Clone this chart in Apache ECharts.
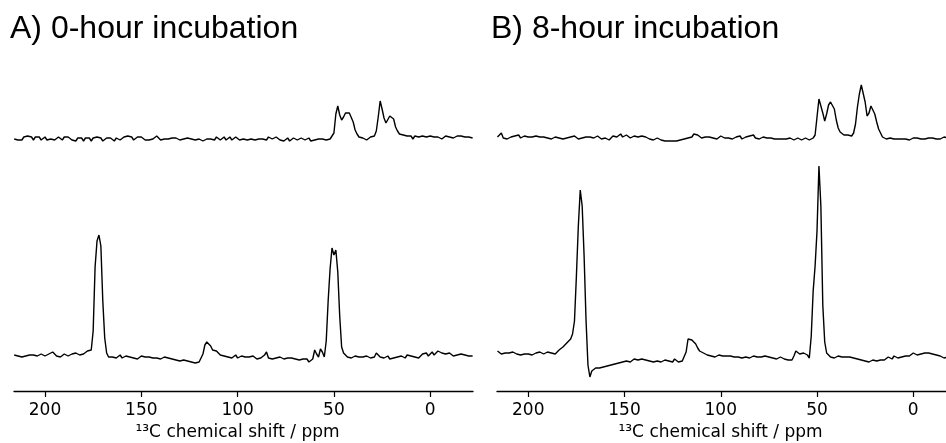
<!DOCTYPE html>
<html>
<head>
<meta charset="utf-8">
<script src="https://cdn.jsdelivr.net/npm/echarts@6/dist/echarts.min.js"></script>
<style>
html,body{margin:0;padding:0;background:#fff;}
#chart{width:946px;height:443px;}
</style>
</head>
<body>
<div id="chart"></div>
<script>
// chemical shift sampling (ppm), 216 .. -22
const ppm = [
216,215,214,213,212,211,210,209,208,207,
206,205,204,203,202,201,200,199,198,197,
196,195,194,193,192,191,190,189,188,187,
186,185,184,183,182,181,180,179,178,177,
176,175,174,173,172,171,170,169,168,167,
166,165,164,163,162,161,160,159,158,157,
156,155,154,153,152,151,150,149,148,147,
146,145,144,143,142,141,140,139,138,137,
136,135,134,133,132,131,130,129,128,127,
126,125,124,123,122,121,120,119,118,117,
116,115,114,113,112,111,110,109,108,107,
106,105,104,103,102,101,100,99,98,97,
96,95,94,93,92,91,90,89,88,87,
86,85,84,83,82,81,80,79,78,77,
76,75,74,73,72,71,70,69,68,67,
66,65,64,63,62,61,60,59,58,57,
56,55,54,53,52,51,50,49,48,47,
46,45,44,43,42,41,40,39,38,37,
36,35,34,33,32,31,30,29,28,27,
26,25,24,23,22,21,20,19,18,17,
16,15,14,13,12,11,10,9,8,7,
6,5,4,3,2,1,0,-1,-2,-3,
-4,-5,-6,-7,-8,-9,-10,-11,-12,-13,
-14,-15,-16,-17,-18,-19,-20,-21,-22];

// A) 0-hour, upper spectrum (intensity, arbitrary units)
const a0hTop = [
0,2,-1,1,-1,2,0,3,1,2,
-1,2,0,2,-1,1,2,-1,1,0,
2,-1,1,2,0,-1,2,0,2,0,
-1,1,-2,1,0,1,-2,1,-1,1,
-2,1,-1,2,0,1,-2,0,1,-1,
1,-1,-2,1,-1,-1,1,2,0,3,
1,2,-1,1,2,0,2,0,-1,1,
-1,1,0,2,3,1,-1,-1,0,-2,
0,-2,1,-1,1,2,-1,1,0,-2,
1,-1,0,1,-1,1,0,-2,-2,-1,
0,-2,0,1,-1,2,0,-1,1,2,
-1,1,2,-1,1,2,0,-1,1,0,
2,-1,1,0,2,-1,1,0,2,0,
1,-1,2,3,0,-1,2,0,-1,1,
-2,0,1,-2,0,1,-1,-1,0,1,
-1,-1,0,1,-2,0,-1,1,0,-1,
0,1,-1,0,0,1,6,25,33,24,
19,22,26,27,26,24,17,9,5,2,
0,1,2,-1,1,2,0,3,8,22,
38,30,21,16,15,23,25,20,12,8,
5,3,4,2,3,1,3,0,3,1,
2,0,3,1,2,0,3,1,2,0,
2,3,0,2,3,1,2,3,1,2,
3,1,3,1,2,1,2,0,1];

// A) 0-hour, lower spectrum
const a0hBottom = [
1,2,0,1,-1,1,0,2,1,0,
1,-1,0,1,2,1,0,1,2,3,
4,2,0,1,-1,0,2,1,0,1,
2,1,3,2,1,3,2,4,5,4,
6,25,89,115,121,110,55,18,3,-1,
-2,-1,0,-2,-1,1,-2,-1,0,-2,
-1,0,-2,-1,-3,-1,0,-2,-1,-2,
-1,-3,-2,0,-2,-1,-3,-2,-1,-3,
-2,-4,-3,-5,-4,-6,-5,-7,-4,-5,
-5,-4,-6,-5,-7,-5,-6,-7,2,11,
14,12,10,6,4,5,3,1,2,0,
1,-1,0,-2,-1,1,-2,-1,0,-2,
-1,-3,-1,-2,0,-2,-3,-1,-2,-1,
1,4,-2,-1,-3,-1,-2,-3,-1,-2,
-3,-1,-2,-4,-2,-1,-3,-2,-4,-2,
-3,-4,-3,-6,-7,-3,6,2,-1,7,
4,-1,15,55,87,108,101,106,84,40,
9,3,1,-1,0,-2,-1,0,-2,-1,
0,-1,-2,0,-1,-2,0,-1,3,1,
-1,0,-2,-1,0,-3,-1,-2,0,-1,
-2,0,-1,-2,1,-1,0,-2,-1,-3,
-2,0,2,1,3,0,2,4,1,3,
5,6,3,1,2,0,3,1,0,2,
1,-1,2,0,1,-1,0,1,0];

// B) 8-hour, upper spectrum
const b8hTop = [
2,4,6,1,2,0,1,2,1,3,
2,4,1,2,3,1,2,0,2,1,
3,1,2,0,2,3,1,2,0,1,
2,0,1,-1,0,2,1,0,2,1,
3,1,0,2,1,3,2,1,2,0,
1,2,3,1,0,2,1,0,-1,1,
3,4,2,3,5,2,3,4,2,1,
2,3,1,2,4,3,5,2,1,0,
1,-1,0,1,0,-1,0,-2,-1,-2,
-3,-2,-1,-2,0,-1,1,0,2,1,
3,2,5,3,4,2,1,3,2,1,
2,3,1,2,0,1,3,2,1,2,
1,2,0,1,2,1,3,0,1,2,
1,3,2,4,1,2,0,1,2,0,
1,0,1,-1,0,1,0,-1,0,1,
0,-1,1,0,-1,0,1,0,-1,0,
1,0,-1,0,1,4,22,40,42,26,
18,25,34,37,39,30,19,11,7,6,
4,3,4,2,3,6,15,32,45,54,
56,37,23,26,33,34,25,17,10,6,
2,1,0,2,1,-1,0,1,0,-1,
0,-2,0,1,-1,0,1,0,1,-1,
0,1,0,2,1,0,1,-1,0,1,
0,1,2,0,1,0,-1,0,1];

// B) 8-hour, lower spectrum
const b8hBottom = [
5,3,2,4,3,1,3,2,4,3,
2,3,1,3,2,4,2,3,1,2,
3,2,4,3,2,3,4,2,3,1,
2,3,6,7,9,11,13,14,17,22,
35,80,130,166,150,100,36,-9,-21,-15,
-13,-12,-11,-12,-10,-11,-9,-10,-8,-9,
-7,-8,-6,-7,-5,-6,-4,-5,-4,-6,
-5,-3,-5,-4,-6,-3,-5,-4,-6,-5,
-3,-6,-4,-5,-3,-6,-5,-4,-6,-5,
-4,-6,-3,-5,-6,-4,-5,-4,4,17,
18,16,16,12,8,5,4,3,2,1,
2,0,1,-1,0,1,-1,0,-2,0,
-1,0,-2,-1,1,-1,0,-2,-1,-1,
0,-2,-1,0,-2,-1,-3,-1,-2,0,
-2,-1,-3,-2,-1,-3,-2,-1,-2,-3,
-2,-4,-6,-4,0,5,5,2,4,3,
2,1,-2,20,65,90,125,190,150,51,
14,3,1,-1,0,-2,-1,0,-2,-1,
0,-1,-2,-1,-3,-2,-1,-3,-2,-4,
-3,-5,-4,-6,-5,-4,-6,-5,-3,-4,
-2,-4,-3,-1,-2,-3,0,-1,-2,0,
-1,1,0,2,0,1,3,2,1,3,
2,4,3,5,3,4,2,3,1,2,
0,-1,-2,0,-1,1,0,-1,0];

const tickValues = [200, 150, 100, 50, 0];
const panelTitles = ['A) 0-hour incubation', 'B) 8-hour incubation'];
const axisTitle = '\u00B9\u00B3C chemical shift / ppm';

const chart = echarts.init(document.getElementById('chart'), null, {renderer: 'canvas'});

function pairs(vals) { return ppm.map((p, i) => [p, vals[i]]); }

const panelLeft = [14, 497];
const grids = [], xAxes = [], yAxes = [], series = [];
const spectra = [[a0hTop, a0hBottom], [b8hTop, b8hBottom]];
const xMax = [216.1, 216.25], xMin = [-22.2, -22.2];

for (let p = 0; p < 2; p++) {
  for (let r = 0; r < 2; r++) {
    const idx = p * 2 + r;
    const isBottom = r === 1;
    grids.push({
      left: panelLeft[p], width: 459,
      top: isBottom ? 160 : 40,
      height: isBottom ? 231 : 120,
      outerBoundsMode: 'none',
      containLabel: false
    });
    xAxes.push({
      gridIndex: idx, type: 'value', inverse: true,
      min: xMin[p], max: xMax[p],
      show: isBottom,
      splitLine: {show: false},
      axisLine: {show: true, onZero: false, lineStyle: {color: '#000', width: 1.3}},
      axisTick: {show: true, length: 6, inside: false, customValues: tickValues,
                 lineStyle: {color: '#000', width: 1.2}},
      axisLabel: {show: true, customValues: tickValues, margin: 11,
                  color: '#000', fontFamily: 'DejaVu Sans', fontSize: 17},
      name: isBottom ? axisTitle : '',
      nameLocation: 'middle', nameGap: 28,
      nameTextStyle: {color: '#000', fontFamily: 'DejaVu Sans', fontSize: 17,
                      padding: [0, 12, 0, 0]}
    });
    yAxes.push({
      gridIndex: idx, type: 'value', show: false,
      min: isBottom ? -35 : -21, max: isBottom ? 196 : 99,
      splitLine: {show: false}
    });
    series.push({
      type: 'line', xAxisIndex: idx, yAxisIndex: idx,
      data: pairs(spectra[p][r]),
      showSymbol: false, symbol: 'none', clip: false,
      lineStyle: {color: '#000', width: 1.4},
      silent: true
    });
  }
}

chart.setOption({
  animation: false,
  backgroundColor: '#fff',
  title: panelTitles.map((t, i) => ({
    text: t, left: i === 0 ? 10 : 491, top: 13, padding: 0,
    textStyle: {color: '#000', fontFamily: 'Liberation Sans', fontSize: 32, fontWeight: 'normal'}
  })),
  grid: grids,
  xAxis: xAxes,
  yAxis: yAxes,
  series: series
});
</script>
</body>
</html>
